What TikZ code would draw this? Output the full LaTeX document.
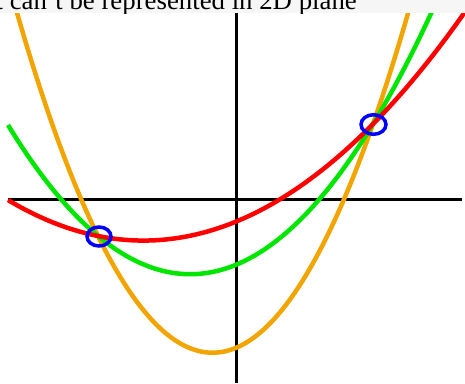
\documentclass[tikz,border=0pt]{standalone}
\usepackage{fontspec}
\setmainfont{Liberation Serif}
\definecolor{stripgray}{RGB}{246,246,246}
\definecolor{cred}{RGB}{255,0,0}
\definecolor{cgreen}{RGB}{0,230,0}
\definecolor{corange}{RGB}{242,165,0}
\definecolor{cblue}{RGB}{0,0,255}
\begin{document}
\begin{tikzpicture}[x=1pt,y=-1pt,
  axisline/.style={black,line width=3pt},
  curve/.style={line width=4.5pt},
  marker/.style={cblue,line width=3.5pt}]
\useasboundingbox (0,0) rectangle (465,383);
\fill[white] (0,0) rectangle (465,383);
% title strip
\begin{scope}
  \clip (0,0) rectangle (465,13);
  \fill[stripgray] (0,0) rectangle (465,13);
  \node[anchor=base east,inner sep=0pt,font=\fontsize{26.8}{30}\selectfont] (title) at (357,9) {t can't be represented in 2D plane};
\end{scope}
\begin{scope}
  \clip (0,13) rectangle (465,383);
  % axes
  \coordinate (xl) at (8,199);
  \coordinate (xr) at (462,199);
  \coordinate (yt) at (236.5,13);
  \coordinate (yb) at (236.5,383);
  \draw[axisline] (xl) -- (xr);
  \draw[axisline] (yt) -- (yb);
  % curves
  \draw[curve,corange] plot[domain=0.1:4.3,samples=150,smooth] ({100*\x},{-88.878*\x*\x+377.889*\x-48.973});
  \draw[curve,cgreen] plot[domain=0.08:4.45,samples=150,smooth] ({100*\x},{-44.948*\x*\x+170.978*\x+111.609});
  \draw[curve,cred] plot[domain=0.08:4.66,samples=150,smooth] ({100*\x},{-22.117*\x*\x+63.444*\x+195.066});
  % intersection markers
  \coordinate (p1) at (99,236.5);
  \coordinate (p2) at (373.5,124.5);
  \draw[marker] (p1) ellipse [x radius=12,y radius=9.5];
  \draw[marker] (p2) ellipse [x radius=12.5,y radius=9.8];
\end{scope}
\end{tikzpicture}
\end{document}
